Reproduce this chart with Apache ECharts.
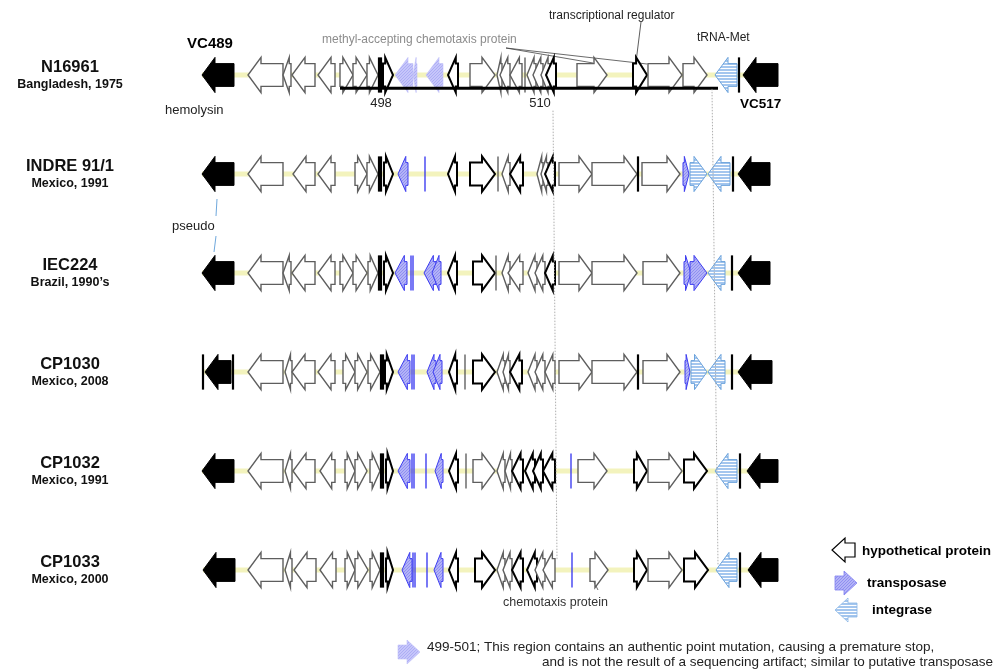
<!DOCTYPE html>
<html>
<head>
<meta charset="utf-8">
<script src="https://cdn.jsdelivr.net/npm/echarts@6/dist/echarts.min.js"></script>
<style>
  html, body { margin: 0; padding: 0; background: #fff; }
  #chart { width: 998px; height: 669px; }
</style>
</head>
<body>
<div id="chart"></div>
<script>
// Strains shown, top to bottom
const strains = ['N16961', 'INDRE 91/1', 'IEC224', 'CP1030', 'CP1032', 'CP1033'];
const origins = ['Bangladesh, 1975', 'Mexico, 1991', "Brazil, 1990\u2019s", 'Mexico, 2008', 'Mexico, 1991', 'Mexico, 2000'];

// Genes per strain: [start, end, strand, kind]
// kind: K black ORF, H hypothetical, B hypothetical (bold outline), P pale transposase (point mutation),
//       T transposase, I integrase, | black bar, : grey bar, t thin transposase fragment
const genesN16961 = [
  [202, 234, -1, 'K'], [248, 283, -1, 'H'], [283, 291, -1, 'H'], [292, 315, -1, 'H'], [318, 335, -1, 'H'],
  [340, 353, 1, 'H'], [353, 367, 1, 'H'], [367, 378, 1, 'H'], [379, 379, 0, '|'], [381, 381, 0, '|'],
  [383, 393, 1, 'B'], [395, 413, -1, 'P'], [413, 417, -1, 'P'], [426, 443, -1, 'P'], [448, 458, -1, 'B'],
  [470, 495, 1, 'H'], [497, 502, -1, 'H'], [500, 510, -1, 'H'], [510, 522, -1, 'H'], [525, 525, 0, ':'],
  [527, 536, -1, 'H'], [533, 543, -1, 'H'], [541, 550, -1, 'H'], [546, 556, -1, 'B'],
  [577, 607, 1, 'H'], [633, 647, 1, 'B'], [648, 682, 1, 'H'], [683, 707, 1, 'H'],
  [715, 737, -1, 'I'], [739, 739, 0, '|'], [743, 778, -1, 'K']
];
const genesINDRE = [
  [202, 234, -1, 'K'], [248, 283, -1, 'H'], [293, 315, -1, 'H'], [318, 335, -1, 'H'],
  [355, 367, 1, 'H'], [367, 378, 1, 'H'], [379, 379, 0, '|'], [381, 381, 0, '|'], [384, 393, 1, 'B'],
  [398, 408, -1, 'T'], [425, 425, 0, 't'], [448, 457, -1, 'B'],
  [470, 495, 1, 'B'], [498, 498, 0, ':'], [502, 510, -1, 'H'], [510, 523, -1, 'B'],
  [537, 543, -1, 'H'], [541, 548, -1, 'H'], [545, 555, -1, 'B'],
  [559, 592, 1, 'H'], [592, 637, 1, 'H'], [638, 638, 0, '|'], [642, 680, 1, 'H'],
  [683, 689, 1, 'T'], [690, 707, 1, 'I'], [708, 730, -1, 'I'], [733, 733, 0, '|'], [738, 770, -1, 'K']
];
const genesIEC224 = [
  [202, 234, -1, 'K'], [248, 283, -1, 'H'], [283, 291, -1, 'H'], [292, 315, -1, 'H'], [318, 335, -1, 'H'],
  [340, 353, 1, 'H'], [353, 367, 1, 'H'], [368, 378, 1, 'H'], [379, 379, 0, '|'], [381, 381, 0, '|'],
  [384, 393, 1, 'B'], [395, 407, -1, 'T'], [411, 411, 0, 't'], [413, 413, 0, 't'],
  [424, 436, -1, 'T'], [432, 441, -1, 'T'], [448, 457, -1, 'B'],
  [473, 495, 1, 'B'], [496, 496, 0, ':'], [502, 510, -1, 'H'], [508, 523, -1, 'H'],
  [528, 537, -1, 'H'], [535, 545, -1, 'H'], [545, 555, -1, 'B'],
  [559, 592, 1, 'H'], [592, 637, 1, 'H'], [643, 680, 1, 'H'],
  [684, 691, 1, 'T'], [690, 707, 1, 'T'], [708, 725, -1, 'I'], [732, 732, 0, '|'], [738, 770, -1, 'K']
];
const genesCP1030 = [
  [203, 203, 0, '|'], [205, 231, -1, 'K'], [233, 233, 0, '|'],
  [248, 283, -1, 'H'], [285, 292, -1, 'H'], [292, 315, -1, 'H'], [318, 335, -1, 'H'],
  [343, 355, 1, 'H'], [355, 367, 1, 'H'], [368, 380, 1, 'H'], [381, 381, 0, '|'], [383, 383, 0, '|'],
  [385, 393, 1, 'B'], [398, 410, -1, 'T'], [412, 412, 0, 't'], [414, 414, 0, 't'],
  [427, 436, -1, 'T'], [433, 442, -1, 'T'], [449, 457, -1, 'B'], [465, 465, 0, ':'],
  [473, 495, 1, 'B'], [497, 505, -1, 'H'], [503, 510, -1, 'H'], [510, 522, -1, 'B'],
  [528, 537, -1, 'H'], [535, 545, -1, 'H'], [545, 555, -1, 'H'],
  [559, 592, 1, 'H'], [592, 637, 1, 'H'], [638, 638, 0, '|'], [643, 680, 1, 'H'],
  [685, 690, 1, 'T'], [691, 707, 1, 'I'], [708, 725, -1, 'I'], [732, 732, 0, '|'], [738, 772, -1, 'K']
];
const genesCP1032 = [
  [202, 234, -1, 'K'], [248, 283, -1, 'H'], [285, 292, -1, 'H'], [293, 315, -1, 'H'], [320, 335, -1, 'H'],
  [345, 355, 1, 'H'], [355, 367, 1, 'H'], [370, 380, 1, 'H'], [381, 381, 0, '|'], [383, 383, 0, '|'],
  [386, 393, 1, 'B'], [398, 410, -1, 'T'], [412, 412, 0, 't'], [414, 414, 0, 't'], [426, 426, 0, 't'],
  [435, 443, -1, 'T'], [449, 458, -1, 'B'], [466, 466, 0, ':'],
  [473, 495, 1, 'H'], [497, 505, -1, 'H'], [505, 512, -1, 'H'], [512, 523, -1, 'B'],
  [525, 535, -1, 'B'], [533, 543, -1, 'B'], [543, 555, -1, 'B'], [571, 571, 0, 't'],
  [578, 607, 1, 'H'], [634, 647, 1, 'B'], [648, 682, 1, 'H'], [684, 707, 1, 'B'],
  [715, 737, -1, 'I'], [740, 740, 0, '|'], [747, 778, -1, 'K']
];
const genesCP1033 = [
  [203, 235, -1, 'K'], [248, 283, -1, 'H'], [285, 292, -1, 'H'], [294, 316, -1, 'H'], [320, 336, -1, 'H'],
  [345, 355, 1, 'H'], [355, 368, 1, 'H'], [370, 380, 1, 'H'], [381, 381, 0, '|'], [383, 383, 0, '|'],
  [386, 393, 1, 'B'], [402, 412, -1, 'T'], [413, 413, 0, 't'], [415, 415, 0, 't'], [427, 427, 0, 't'],
  [434, 443, -1, 'T'], [449, 458, -1, 'B'],
  [475, 495, 1, 'B'], [497, 505, -1, 'H'], [503, 512, -1, 'H'], [512, 523, -1, 'B'],
  [527, 537, -1, 'B'], [535, 545, -1, 'H'], [543, 555, -1, 'H'], [572, 572, 0, 't'],
  [590, 608, 1, 'H'], [634, 647, 1, 'B'], [648, 682, 1, 'H'], [684, 708, 1, 'B'],
  [716, 737, -1, 'I'], [740, 740, 0, '|'], [748, 778, -1, 'K']
];
const genesByStrain = [genesN16961, genesINDRE, genesIEC224, genesCP1030, genesCP1032, genesCP1033];

// Reference region drawn under N16961 (VC0498 .. VC0517) and its gene-number marks
const refRegion = [340, 718];
const refTickLabels = ['498', '510'];
const refTickPos = [381, 540];

// ---- derived tables ----
const geneRows = [];
genesByStrain.forEach((list, ti) => list.forEach(g => geneRows.push([g[0], g[1], ti, g[2], g[3]])));
const backboneRows = genesByStrain.map((list, ti) => [
  Math.min(...list.map(g => g[0])), Math.max(...list.map(g => g[1])), ti
]);

// ---- fill patterns ----
function makePattern(w, h, draw) {
  const c = document.createElement('canvas');
  c.width = w; c.height = h;
  draw(c.getContext('2d'));
  return { image: c, repeat: 'repeat' };
}
const transFill = makePattern(3, 3, ctx => {
  ctx.fillStyle = '#b3b3f7'; ctx.fillRect(0, 0, 3, 3);
  ctx.fillStyle = '#8f8ff0'; ctx.fillRect(0, 0, 1, 1); ctx.fillRect(2, 1, 1, 1); ctx.fillRect(1, 2, 1, 1);
});
const paleFill = makePattern(3, 3, ctx => {
  ctx.fillStyle = '#c6c6fa'; ctx.fillRect(0, 0, 3, 3);
  ctx.fillStyle = '#adadf5'; ctx.fillRect(0, 0, 1, 1); ctx.fillRect(2, 1, 1, 1); ctx.fillRect(1, 2, 1, 1);
});
const integraseFill = makePattern(4, 3, ctx => {
  ctx.fillStyle = '#ffffff'; ctx.fillRect(0, 0, 4, 3);
  ctx.fillStyle = '#a4c6ee'; ctx.fillRect(0, 0, 4, 2);
});

const FONT = 'Liberation Sans, Arial, sans-serif';

function arrowPoints(x1, x2, yc, strand, bh, hh) {
  const len = x2 - x1;
  const head = Math.min(13, len * 0.78);
  if (strand >= 0) {
    const s = x2 - head;
    return [[x1, yc - bh], [s, yc - bh], [s, yc - hh], [x2, yc], [s, yc + hh], [s, yc + bh], [x1, yc + bh]];
  }
  const s = x1 + head;
  return [[x2, yc - bh], [s, yc - bh], [s, yc - hh], [x1, yc], [s, yc + hh], [s, yc + bh], [x2, yc + bh]];
}

const KIND_STYLE = {
  K: { fill: '#000', stroke: '#000', lineWidth: 1 },
  H: { fill: '#fff', stroke: '#5e5e5e', lineWidth: 1.4 },
  B: { fill: '#fff', stroke: '#000', lineWidth: 2 },
  P: { fill: paleFill, stroke: '#c0c0f8', lineWidth: 0.6 },
  T: { fill: transFill, stroke: '#3d3df0', lineWidth: 1 },
  I: { fill: integraseFill, stroke: '#6aa2dc', lineWidth: 1 }
};

function renderGene(params, api) {
  const g = geneRows[params.dataIndex];
  const p1 = api.coord([g[0], g[2]]);
  const p2 = api.coord([g[1], g[2]]);
  const band = api.size([0, 1])[1];
  const yc = p1[1];
  const hh = band * 0.178, bh = band * 0.115;
  const kind = g[4];
  if (kind === '|' || kind === ':' || kind === 't') {
    const color = kind === '|' ? '#000' : kind === ':' ? '#555' : '#3030f0';
    const lw = kind === '|' ? 2.2 : 1.3;
    return {
      type: 'line',
      shape: { x1: p1[0], y1: yc - hh, x2: p1[0], y2: yc + hh },
      style: { stroke: color, lineWidth: lw }
    };
  }
  const st = KIND_STYLE[kind];
  return {
    type: 'polygon',
    shape: { points: arrowPoints(p1[0], p2[0], yc, g[3], bh, hh) },
    style: { fill: st.fill, stroke: st.stroke, lineWidth: st.lineWidth, lineJoin: 'miter' }
  };
}

function renderBackbone(params, api) {
  const r = backboneRows[params.dataIndex];
  const a = api.coord([r[0], r[2]]);
  const b = api.coord([r[1], r[2]]);
  return {
    type: 'line',
    shape: { x1: a[0], y1: a[1], x2: b[0], y2: b[1] },
    style: { stroke: '#f3f3bd', lineWidth: 5 }
  };
}

// overlay: reference bar, its gene numbers and the dotted correspondence lines
function renderOverlay(params, api) {
  const band = api.size([0, 1])[1];
  const a = api.coord([refRegion[0], 0]);
  const b = api.coord([refRegion[1], 0]);
  const yBar = a[1] + band * 0.135;
  const children = [{
    type: 'line',
    shape: { x1: a[0], y1: yBar, x2: b[0], y2: yBar },
    style: { stroke: '#000', lineWidth: 3 }
  }];
  refTickLabels.forEach((t, i) => {
    const p = api.coord([refTickPos[i], 0]);
    children.push({
      type: 'text',
      style: { text: t, x: p[0], y: yBar + 15, align: 'center', verticalAlign: 'middle',
               font: '13px ' + FONT, fill: '#222' }
    });
  });
  const dotted = (xTop, yTop, xBot, yBot) => ({
    type: 'line',
    shape: { x1: xTop, y1: yTop, x2: xBot, y2: yBot },
    style: { stroke: '#9a9a9a', lineWidth: 0.8, lineDash: [1.5, 1.5] }
  });
  const l0 = api.coord([553, 0]), l5 = api.coord([557, 5]);
  const r0 = api.coord([712, 0]), r5 = api.coord([718, 5]);
  children.push(dotted(l0[0], l0[1] + band * 0.36, l5[0], l5[1] - band * 0.1));
  children.push(dotted(r0[0], r0[1] + band * 0.14, r5[0], r5[1] - band * 0.05));
  return { type: 'group', children };
}

// small arrow glyph for the key
function keyArrow(x1, x2, yc, strand, fill, stroke, lw) {
  return {
    type: 'polygon',
    shape: { points: arrowPoints(x1, x2, yc, strand, 7, 12) },
    style: { fill, stroke, lineWidth: lw }
  };
}
function txt(text, x, y, size, opts) {
  return {
    type: 'text',
    style: Object.assign({ text, x, y, font: size + 'px ' + FONT, fill: '#222',
                           verticalAlign: 'middle', align: 'left' }, opts || {})
  };
}
function seg(x1, y1, x2, y2, stroke, lw) {
  return { type: 'line', shape: { x1, y1, x2, y2 }, style: { stroke, lineWidth: lw } };
}

const chart = echarts.init(document.getElementById('chart'), null, { renderer: 'canvas' });
chart.setOption({
  animation: false,
  backgroundColor: '#fff',
  grid: { left: 140, right: 0, top: 25.5, bottom: 49.5 },
  xAxis: { type: 'value', min: 140, max: 998, show: false },
  yAxis: {
    type: 'category', inverse: true, data: strains,
    axisLine: { show: false }, axisTick: { show: false }, splitLine: { show: false },
    axisLabel: {
      margin: 70, align: 'center',
      formatter: (v, i) => '{n|' + v + '}\n{o|' + origins[i] + '}',
      rich: {
        n: { fontFamily: FONT, fontWeight: 'bold', fontSize: 16.5, color: '#111', lineHeight: 19 },
        o: { fontFamily: FONT, fontWeight: 'bold', fontSize: 12.5, color: '#111', lineHeight: 16 }
      }
    }
  },
  series: [
    { type: 'custom', name: 'backbone', renderItem: renderBackbone, data: backboneRows,
      encode: { x: [0, 1], y: 2 }, silent: true, z: 1 },
    { type: 'custom', name: 'genes', renderItem: renderGene, data: geneRows,
      encode: { x: [0, 1], y: 2 }, silent: true, z: 2 },
    { type: 'custom', name: 'overlay', renderItem: renderOverlay, data: [[refRegion[0], 0]],
      encode: { x: 0, y: 1 }, silent: true, z: 3 }
  ],
  graphic: [
    txt('VC489', 210, 44, 15, { align: 'center', font: 'bold 15px ' + FONT, fill: '#000' }),
    txt('hemolysin', 165, 110, 13),
    txt('VC517', 740, 104, 13.5, { font: 'bold 13.5px ' + FONT, fill: '#000' }),
    txt('tRNA-Met', 697, 38, 12),
    txt('methyl-accepting chemotaxis protein', 322, 40, 12, { fill: '#8c8c8c' }),
    seg(506, 48, 593, 63, '#444', 0.8),
    seg(506, 48, 647, 64, '#444', 0.8),
    txt('transcriptional regulator', 549, 16, 12),
    seg(641, 22, 636, 62, '#333', 0.8),
    txt('pseudo', 172, 226, 13),
    seg(217, 199, 216, 216, '#6fa8dc', 1),
    seg(216, 236, 214, 252, '#6fa8dc', 1),
    txt('chemotaxis protein', 503, 603, 12.5, { fill: '#333' }),
    seg(593, 580, 598, 590, '#444', 0.8),
    // key
    keyArrow(832, 855, 550, -1, '#fff', '#000', 1.2),
    txt('hypothetical protein', 862, 551, 13.5, { font: 'bold 13.5px ' + FONT, fill: '#000' }),
    keyArrow(835, 857, 583, 1, transFill, '#8080f0', 0.8),
    txt('transposase', 867, 583, 13.5, { font: 'bold 13.5px ' + FONT, fill: '#000' }),
    keyArrow(835, 857, 610, -1, integraseFill, '#8ab6e6', 0.8),
    txt('integrase', 872, 610, 13.5, { font: 'bold 13.5px ' + FONT, fill: '#000' }),
    keyArrow(398, 420, 652, 1, paleFill, '#c0c0f8', 0.6),
    txt('499-501; This region contains an authentic point mutation, causing a premature stop,', 427, 647, 13.5),
    txt('and is not the result of a sequencing artifact; similar to putative transposase', 993, 662, 13.5, { align: 'right' })
  ]
});
</script>
</body>
</html>
